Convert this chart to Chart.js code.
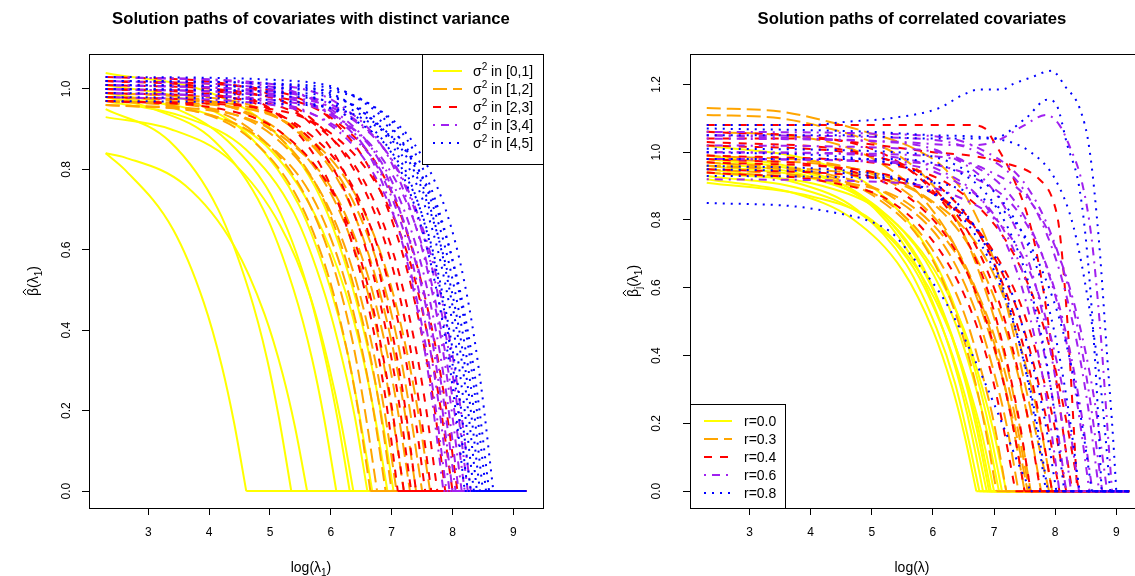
<!DOCTYPE html>
<html>
<head>
<meta charset="utf-8">
<script src="https://cdn.jsdelivr.net/npm/chart.js@4.4.1/dist/chart.umd.min.js"></script>
<style>
html, body { margin: 0; padding: 0; overflow: hidden; background: #fff; width: 1135px; height: 576px; }
canvas { position: absolute; top: 0; }
#left-chart { left: 0; }
#right-chart { left: 567px; }
</style>
</head>
<body>
<canvas id="left-chart" width="567" height="576"></canvas>
<canvas id="right-chart" width="600" height="576"></canvas>
<script>

// ---- left panel: paths grouped by variance bin, [log(lambda1), beta] ----
const leftVar01 = [
    [[2.3,.84],[2.61,.80],[3.41,.65],[3.91,.47],[4.21,.31],[4.41,.17],[4.61,0],[9.21,0]],
    [[2.3,.84],[2.61,.83],[3.61,.76],[4.41,.61],[4.91,.44],[5.21,.29],[5.41,.16],[5.61,0],[9.21,0]],
    [[2.3,.95],[3.35,.87],[4.15,.70],[4.65,.50],[4.95,.33],[5.15,.18],[5.35,0],[9.21,0]],
    [[2.3,.93],[3.37,.90],[4.37,.82],[5.17,.66],[5.67,.48],[5.97,.31],[6.17,.17],[6.37,0],[9.21,0]],
    [[2.3,1.04],[4.03,.99],[5.03,.90],[5.83,.73],[6.33,.52],[6.63,.34],[6.83,.19],[7.03,0],[9.21,0]],
    [[2.3,.98],[3.09,.95],[4.09,.87],[4.89,.70],[5.39,.50],[5.69,.33],[5.89,.18],[6.09,0],[9.21,0]],
    [[2.3,.99],[3.31,.96],[4.31,.87],[5.11,.71],[5.61,.51],[5.91,.33],[6.11,.18],[6.31,0],[9.21,0]],
    [[2.3,.97],[3.6,.93],[4.6,.85],[5.4,.69],[5.9,.49],[6.2,.32],[6.4,.18],[6.6,0],[9.21,0]],
    [[2.3,1.01],[3.68,.97],[4.68,.88],[5.48,.71],[5.98,.51],[6.28,.34],[6.48,.18],[6.68,0],[9.21,0]],
    [[2.3,.98],[3.93,.94],[4.93,.86],[5.73,.69],[6.23,.50],[6.53,.33],[6.73,.18],[6.93,0],[9.21,0]]
]
const leftVar12 = [
    [[2.3,.97],[3.65,.95],[4.65,.88],[5.45,.73],[5.95,.54],[6.25,.36],[6.45,.20],[6.65,0],[9.21,0]],
    [[2.3,.98],[3.76,.96],[4.76,.89],[5.56,.74],[6.06,.55],[6.36,.37],[6.56,.20],[6.76,0],[9.21,0]],
    [[2.3,.96],[3.9,.94],[4.9,.87],[5.7,.73],[6.2,.54],[6.5,.36],[6.7,.20],[6.9,0],[9.21,0]],
    [[2.3,.99],[4.0,.97],[5.0,.90],[5.8,.75],[6.3,.55],[6.6,.37],[6.8,.21],[7.0,0],[9.21,0]],
    [[2.3,.97],[4.08,.95],[5.08,.88],[5.88,.73],[6.38,.54],[6.68,.36],[6.88,.20],[7.08,0],[9.21,0]],
    [[2.3,.98],[4.2,.96],[5.2,.89],[6.0,.74],[6.5,.55],[6.8,.37],[7.0,.20],[7.2,0],[9.21,0]],
    [[2.3,.96],[4.3,.94],[5.3,.87],[6.1,.73],[6.6,.54],[6.9,.36],[7.1,.20],[7.3,0],[9.21,0]],
    [[2.3,.99],[4.4,.97],[5.4,.90],[6.2,.75],[6.7,.55],[7.0,.37],[7.2,.21],[7.4,0],[9.21,0]],
    [[2.3,.98],[4.5,.96],[5.5,.89],[6.3,.74],[6.8,.55],[7.1,.37],[7.3,.20],[7.5,0],[9.21,0]],
    [[2.3,.97],[4.63,.95],[5.63,.88],[6.43,.73],[6.93,.54],[7.23,.36],[7.43,.20],[7.63,0],[9.21,0]]
]
const leftVar23 = [
    [[2.3,1.02],[4.1,1.0],[5.1,.94],[5.9,.79],[6.4,.59],[6.7,.40],[6.9,.23],[7.1,0],[9.21,0]],
    [[2.3,.97],[4.2,.95],[5.2,.89],[6.0,.75],[6.5,.57],[6.8,.38],[7.0,.21],[7.2,0],[9.21,0]],
    [[2.3,1.0],[4.32,.98],[5.32,.92],[6.12,.78],[6.62,.58],[6.92,.39],[7.12,.22],[7.32,0],[9.21,0]],
    [[2.3,1.03],[4.4,1.01],[5.4,.95],[6.2,.80],[6.7,.60],[7.0,.40],[7.2,.23],[7.4,0],[9.21,0]],
    [[2.3,.98],[4.55,.96],[5.55,.90],[6.35,.76],[6.85,.57],[7.15,.39],[7.35,.22],[7.55,0],[9.21,0]],
    [[2.3,1.01],[4.65,.99],[5.65,.93],[6.45,.78],[6.95,.59],[7.25,.40],[7.45,.22],[7.65,0],[9.21,0]],
    [[2.3,.99],[4.75,.97],[5.75,.91],[6.55,.77],[7.05,.58],[7.35,.39],[7.55,.22],[7.75,0],[9.21,0]],
    [[2.3,1.02],[4.88,1.0],[5.88,.94],[6.68,.79],[7.18,.59],[7.48,.40],[7.68,.23],[7.88,0],[9.21,0]],
    [[2.3,.97],[5.0,.95],[6.0,.89],[6.8,.75],[7.3,.57],[7.6,.38],[7.8,.21],[8.0,0],[9.21,0]],
    [[2.3,1.0],[5.08,.98],[6.08,.92],[6.88,.78],[7.38,.58],[7.68,.39],[7.88,.22],[8.08,0],[9.21,0]]
]
const leftVar34 = [
    [[2.3,1.03],[4.85,1.01],[5.85,.96],[6.65,.83],[7.15,.63],[7.45,.43],[7.65,.24],[7.85,0],[9.21,0]],
    [[2.3,.99],[4.9,.97],[5.9,.92],[6.7,.79],[7.2,.61],[7.5,.41],[7.7,.23],[7.9,0],[9.21,0]],
    [[2.3,1.01],[4.95,.99],[5.95,.94],[6.75,.81],[7.25,.62],[7.55,.42],[7.75,.24],[7.95,0],[9.21,0]],
    [[2.3,1.02],[5.0,1.0],[6.0,.95],[6.8,.82],[7.3,.62],[7.6,.43],[7.8,.24],[8.0,0],[9.21,0]],
    [[2.3,.98],[5.05,.96],[6.05,.91],[6.85,.79],[7.35,.60],[7.65,.41],[7.85,.23],[8.05,0],[9.21,0]],
    [[2.3,1.0],[5.1,.98],[6.1,.93],[6.9,.80],[7.4,.61],[7.7,.42],[7.9,.24],[8.1,0],[9.21,0]],
    [[2.3,1.03],[5.15,1.01],[6.15,.96],[6.95,.83],[7.45,.63],[7.75,.43],[7.95,.24],[8.15,0],[9.21,0]],
    [[2.3,.99],[5.2,.97],[6.2,.92],[7.0,.79],[7.5,.61],[7.8,.41],[8.0,.23],[8.2,0],[9.21,0]],
    [[2.3,1.01],[5.25,.99],[6.25,.94],[7.05,.81],[7.55,.62],[7.85,.42],[8.05,.24],[8.25,0],[9.21,0]],
    [[2.3,1.0],[5.3,.98],[6.3,.93],[7.1,.80],[7.6,.61],[7.9,.42],[8.1,.24],[8.3,0],[9.21,0]]
]
const leftVar45 = [
    [[2.3,1.0],[5.2,.99],[6.2,.95],[7.0,.84],[7.5,.65],[7.8,.45],[8.0,.26],[8.2,0],[9.21,0]],
    [[2.3,1.02],[5.25,1.01],[6.25,.97],[7.05,.85],[7.55,.66],[7.85,.46],[8.05,.26],[8.25,0],[9.21,0]],
    [[2.3,.98],[5.3,.97],[6.3,.93],[7.1,.82],[7.6,.64],[7.9,.44],[8.1,.25],[8.3,0],[9.21,0]],
    [[2.3,1.01],[5.35,1.0],[6.35,.96],[7.15,.84],[7.65,.66],[7.95,.46],[8.15,.26],[8.35,0],[9.21,0]],
    [[2.3,1.03],[5.4,1.02],[6.4,.98],[7.2,.86],[7.7,.67],[8.0,.46],[8.2,.27],[8.4,0],[9.21,0]],
    [[2.3,.99],[5.45,.98],[6.45,.94],[7.25,.83],[7.75,.64],[8.05,.45],[8.25,.26],[8.45,0],[9.21,0]],
    [[2.3,1.0],[5.5,.99],[6.5,.95],[7.3,.84],[7.8,.65],[8.1,.45],[8.3,.26],[8.5,0],[9.21,0]],
    [[2.3,1.02],[5.55,1.01],[6.55,.97],[7.35,.85],[7.85,.66],[8.15,.46],[8.35,.26],[8.55,0],[9.21,0]],
    [[2.3,.97],[5.6,.96],[6.6,.92],[7.4,.81],[7.9,.63],[8.2,.44],[8.4,.25],[8.6,0],[9.21,0]],
    [[2.3,1.01],[5.67,1.0],[6.67,.96],[7.47,.84],[7.97,.66],[8.27,.46],[8.47,.26],[8.67,0],[9.21,0]]
]

// ---- right panel: paths grouped by correlation r ----
const rightR00 = [
    [[2.3,.92],[3.71,.88],[4.71,.80],[5.51,.65],[6.01,.47],[6.31,.31],[6.51,.17],[6.71,0],[9.21,0]],
    [[2.3,.95],[3.76,.91],[4.76,.83],[5.56,.67],[6.06,.48],[6.36,.32],[6.56,.17],[6.76,0],[9.21,0]],
    [[2.3,.99],[3.82,.95],[4.82,.87],[5.62,.70],[6.12,.50],[6.42,.33],[6.62,.18],[6.82,0],[9.21,0]],
    [[2.3,.93],[3.88,.89],[4.88,.81],[5.68,.66],[6.18,.47],[6.48,.31],[6.68,.17],[6.88,0],[9.21,0]],
    [[2.3,.97],[3.95,.93],[4.95,.85],[5.75,.69],[6.25,.49],[6.55,.32],[6.75,.18],[6.95,0],[9.21,0]],
    [[2.3,.91],[4.0,.87],[5.0,.80],[5.8,.64],[6.3,.46],[6.6,.30],[6.8,.17],[7.0,0],[9.21,0]],
    [[2.3,.96],[4.08,.92],[5.08,.84],[5.88,.68],[6.38,.49],[6.68,.32],[6.88,.18],[7.08,0],[9.21,0]],
    [[2.3,1.02],[4.13,.97],[5.13,.88],[5.93,.71],[6.43,.51],[6.73,.33],[6.93,.18],[7.13,0],[9.21,0]],
    [[2.3,.94],[4.2,.90],[5.2,.82],[6.0,.66],[6.5,.48],[6.8,.31],[7.0,.17],[7.2,0],[9.21,0]],
    [[2.3,.98],[3.92,.94],[4.92,.86],[5.72,.69],[6.22,.50],[6.52,.33],[6.72,.18],[6.92,0],[9.21,0]]
]
const rightR03 = [
    [[2.3,1.13],[3.5,1.12],[4.3,1.09],[4.9,1.06],[5.7,1.01],[6.2,.95],[6.6,.85],[7.0,.68],[7.3,.48],[7.55,.28],[7.75,.12],[7.9,0],[9.21,0]],
    [[2.3,1.11],[3.5,1.10],[4.3,1.07],[5.0,1.03],[5.6,.97],[6.1,.88],[6.5,.76],[6.9,.57],[7.2,.38],[7.4,.21],[7.6,0],[9.21,0]],
    [[2.3,1.06],[3.5,1.05],[4.5,1.02],[5.3,.95],[5.9,.85],[6.4,.71],[6.8,.53],[7.1,.36],[7.35,.18],[7.55,0],[9.21,0]],
    [[2.3,.97],[4.04,.94],[5.04,.87],[5.84,.73],[6.34,.54],[6.64,.36],[6.84,.20],[7.04,0],[9.21,0]],
    [[2.3,.95],[4.2,.92],[5.2,.86],[6.0,.71],[6.5,.53],[6.8,.35],[7.0,.20],[7.2,0],[9.21,0]],
    [[2.3,.96],[4.4,.93],[5.4,.86],[6.2,.72],[6.7,.53],[7.0,.35],[7.2,.20],[7.4,0],[9.21,0]],
    [[2.3,.94],[4.58,.91],[5.58,.85],[6.38,.70],[6.88,.52],[7.18,.35],[7.38,.19],[7.58,0],[9.21,0]],
    [[2.3,.98],[4.77,.95],[5.77,.88],[6.57,.73],[7.07,.54],[7.37,.36],[7.57,.20],[7.77,0],[9.21,0]],
    [[2.3,.96],[4.95,.93],[5.95,.86],[6.75,.72],[7.25,.53],[7.55,.35],[7.75,.20],[7.95,0],[9.21,0]],
    [[2.3,.99],[4.5,.96],[5.5,.89],[6.3,.74],[6.8,.55],[7.1,.37],[7.3,.20],[7.5,0],[9.21,0]]
]
const rightR04 = [
    [[2.3,1.08],[4.0,1.08],[5.5,1.08],[6.6,1.08],[6.85,1.07],[7.0,1.03],[7.3,.93],[7.6,.78],[7.8,.60],[8.0,.35],[8.15,.15],[8.28,0],[9.21,0]],
    [[2.3,1.04],[4.0,1.04],[5.13,1.02],[6.0,1.0],[6.6,.99],[7.14,.97],[7.74,.92],[7.96,.86],[8.07,.77],[8.2,.50],[8.3,.20],[8.36,0],[9.21,0]],
    [[2.3,1.03],[4.76,1.0],[5.76,.93],[6.56,.77],[7.06,.57],[7.36,.38],[7.56,.21],[7.76,0],[9.21,0]],
    [[2.3,.98],[4.5,.95],[5.5,.88],[6.3,.73],[6.8,.54],[7.1,.36],[7.3,.20],[7.5,0],[9.21,0]],
    [[2.3,.94],[4.35,.91],[5.35,.85],[6.15,.70],[6.65,.52],[6.95,.35],[7.15,.19],[7.35,0],[9.21,0]],
    [[2.3,1.02],[4.95,.99],[5.95,.92],[6.75,.76],[7.25,.56],[7.55,.38],[7.75,.21],[7.95,0],[9.21,0]],
    [[2.3,.97],[5.07,.94],[6.07,.87],[6.87,.73],[7.37,.54],[7.67,.36],[7.87,.20],[8.07,0],[9.21,0]],
    [[2.3,.95],[5.18,.92],[6.18,.86],[6.98,.71],[7.48,.53],[7.78,.35],[7.98,.20],[8.18,0],[9.21,0]],
    [[2.3,1.06],[4.6,1.03],[5.6,.95],[6.4,.79],[6.9,.59],[7.2,.39],[7.4,.22],[7.6,0],[9.21,0]],
    [[2.3,.99],[5.39,.96],[6.39,.89],[7.19,.74],[7.69,.55],[7.99,.37],[8.19,.20],[8.39,0],[9.21,0]]
]
const rightR06 = [
    [[2.3,1.05],[4.0,1.04],[5.5,1.03],[6.5,1.02],[7.0,1.03],[7.5,1.08],[7.85,1.11],[8.07,1.08],[8.23,1.02],[8.44,.91],[8.6,.74],[8.75,.45],[8.85,.20],[8.93,0],[9.21,0]],
    [[2.3,1.06],[5.77,1.05],[6.77,1.01],[7.57,.89],[8.07,.69],[8.37,.48],[8.57,.27],[8.77,0],[9.21,0]],
    [[2.3,1.0],[5.07,.99],[6.07,.95],[6.87,.84],[7.37,.65],[7.67,.45],[7.87,.26],[8.07,0],[9.21,0]],
    [[2.3,.98],[5.18,.97],[6.18,.93],[6.98,.82],[7.48,.64],[7.78,.44],[7.98,.25],[8.18,0],[9.21,0]],
    [[2.3,1.04],[5.26,1.03],[6.26,.99],[7.06,.87],[7.56,.68],[7.86,.47],[8.06,.27],[8.26,0],[9.21,0]],
    [[2.3,.92],[5.39,.91],[6.39,.87],[7.19,.77],[7.69,.60],[7.99,.41],[8.19,.24],[8.39,0],[9.21,0]],
    [[2.3,1.02],[5.56,1.01],[6.56,.97],[7.36,.85],[7.86,.66],[8.16,.46],[8.36,.26],[8.56,0],[9.21,0]],
    [[2.3,.98],[5.61,.97],[6.61,.93],[7.41,.82],[7.91,.64],[8.21,.44],[8.41,.25],[8.61,0],[9.21,0]],
    [[2.3,1.05],[5.72,1.04],[6.72,1.0],[7.52,.88],[8.02,.68],[8.32,.47],[8.52,.27],[8.72,0],[9.21,0]],
    [[2.3,1.0],[5.85,.99],[6.85,.95],[7.65,.84],[8.15,.65],[8.45,.45],[8.65,.26],[8.85,0],[9.21,0]]
]
const rightR08 = [
    [[2.3,1.08],[4.0,1.08],[4.6,1.09],[5.3,1.10],[6.1,1.13],[6.5,1.17],[6.76,1.185],[7.14,1.185],[7.3,1.2],[7.6,1.22],[7.94,1.24],[8.18,1.19],[8.4,1.13],[8.56,1.01],[8.72,.73],[8.85,.40],[8.95,.15],[9.0,0],[9.21,0]],
    [[2.3,1.05],[4.5,1.05],[6.0,1.04],[6.97,1.04],[7.52,1.10],[7.87,1.155],[8.02,1.14],[8.2,1.02],[8.4,.89],[8.55,.65],[8.68,.30],[8.76,0],[9.21,0]],
    [[2.3,.85],[3.74,.84],[4.44,.82],[4.91,.80],[5.34,.76],[5.67,.69],[6.2,.56],[6.6,.42],[6.9,.30],[7.2,.17],[7.4,.08],[7.6,0],[9.21,0]],
    [[2.3,1.0],[4.85,.98],[5.85,.93],[6.65,.79],[7.15,.60],[7.45,.41],[7.65,.23],[7.85,0],[9.21,0]],
    [[2.3,.95],[5.02,.93],[6.02,.88],[6.82,.75],[7.32,.57],[7.62,.38],[7.82,.22],[8.02,0],[9.21,0]],
    [[2.3,.98],[5.15,.98],[6.15,.96],[6.95,.86],[7.45,.68],[7.75,.48],[7.95,.28],[8.15,0],[9.21,0]],
    [[2.3,1.01],[5.4,1.0],[6.4,.96],[7.2,.84],[7.7,.66],[8.0,.46],[8.2,.26],[8.4,0],[9.21,0]],
    [[2.3,.93],[5.6,.92],[6.6,.88],[7.4,.78],[7.9,.60],[8.2,.42],[8.4,.24],[8.6,0],[9.21,0]],
    [[2.3,1.07],[5.0,1.06],[6.0,1.05],[7.0,1.04],[7.6,1.0],[8.0,.92],[8.3,.78],[8.55,.55],[8.75,.30],[8.9,0],[9.21,0]],
    [[2.3,.96],[4.88,.94],[5.88,.89],[6.68,.76],[7.18,.57],[7.48,.39],[7.68,.22],[7.88,0],[9.21,0]]
]

const xTicksMin = 2.026
const xTicksMax = 9.486
const leftYRange = [-0.042, 1.087]
const rightYRange = [-0.0496, 1.2896]

const leftLegendLabels = ['[0,1]', '[1,2]', '[2,3]', '[3,4]', '[4,5]']
const rightLegendLabels = ['r=0.0', 'r=0.3', 'r=0.4', 'r=0.6', 'r=0.8']

const FONT = '"Liberation Sans", Arial, Helvetica, sans-serif'
const groupColors = ['#FFFF00', '#FFA500', '#FF0000', '#A020F0', '#0000FF']
const groupDashes = [[], [14, 6], [8, 8], [2, 6, 8, 6], [2, 6]]


function buildDatasets(groups){
    const sets = []
    groups.forEach(function (lines, g) {
        lines.forEach(function (line) {
            // curved part up to where the path hits zero, then the flat zero tail
            let cut = line.findIndex(p => p[1] === 0)
            if (cut < 0) cut = line.length - 1
            const parts = [line.slice(0, cut + 1), line.slice(cut)]
            parts.forEach(function (part, k) {
                sets.push({
                    data: part.map(p => ({ x: p[0], y: p[1] })),
                    borderColor: groupColors[g],
                    borderDash: groupDashes[g],
                    borderWidth: 2,
                    pointRadius: 0,
                    cubicInterpolationMode: k === 0 ? 'monotone' : 'default',
                    tension: k === 0 ? 0.4 : 0,
                    fill: false,
                    order: 5 - g
                })
            })
        })
    })
    return sets
}

// text with sub/superscripts and a hat, drawn centered (or left aligned) at x,y
function drawRich(ctx, segs, x, y, rot, align, size){
    const big = size + 'px ' + FONT
    const small = Math.round(size * 0.72) + 'px ' + FONT
    const widths = []
    let total = 0
    segs.forEach(function (s) {
        ctx.font = (s[1] === 'sub' || s[1] === 'sup') ? small : big
        const w = ctx.measureText(s[0]).width
        widths.push(w)
        total += w
    })
    ctx.save()
    ctx.translate(x, y)
    if (rot) ctx.rotate(rot)
    ctx.textAlign = 'left'
    ctx.textBaseline = 'alphabetic'
    ctx.fillStyle = '#000'
    const base = size * 0.36
    let cx = align === 'left' ? 0 : -total / 2
    segs.forEach(function (s, i) {
        const kind = s[1]
        ctx.font = (kind === 'sub' || kind === 'sup') ? small : big
        const dy = kind === 'sub' ? size * 0.3 : (kind === 'sup' ? -size * 0.42 : 0)
        ctx.fillText(s[0], cx, base + dy)
        if (kind === 'hat') {
            ctx.beginPath()
            ctx.strokeStyle = '#000'
            ctx.lineWidth = 1
            ctx.moveTo(cx + 1, base - size * 0.85)
            ctx.lineTo(cx + widths[i] / 2, base - size * 1.08)
            ctx.lineTo(cx + widths[i] - 1, base - size * 0.85)
            ctx.stroke()
        }
        cx += widths[i]
    })
    ctx.restore()
}

const rDecor = {
    id: 'rDecor',
    afterDraw(chart, args, o) {
        const ctx = chart.ctx
        const a = chart.chartArea
        ctx.save()

        // plot box
        ctx.strokeStyle = '#000'
        ctx.lineWidth = 1
        ctx.setLineDash([])
        ctx.strokeRect(Math.round(a.left) + 0.5, Math.round(a.top) + 0.5, Math.round(a.right - a.left), Math.round(a.bottom - a.top))

        // y tick labels, rotated like R
        const ys = chart.scales.y
        ctx.font = '12px ' + FONT
        ctx.fillStyle = '#000'
        ctx.textAlign = 'center'
        ctx.textBaseline = 'middle'
        ys.ticks.forEach(function (t) {
            const py = ys.getPixelForValue(t.value)
            ctx.save()
            ctx.translate(o.yTickX, py)
            ctx.rotate(-Math.PI / 2)
            ctx.fillText(t.value.toFixed(1), 0, 0)
            ctx.restore()
        })

        // main title
        ctx.font = 'bold 16.7px ' + FONT
        ctx.fillText(o.title, o.titleX, o.titleY)

        drawRich(ctx, o.xTitle, o.titleX, o.xTitleY, 0, 'center', 14)
        drawRich(ctx, o.yTitle, o.yTitleX, (a.top + a.bottom) / 2, -Math.PI / 2, 'center', 14)

        // legend
        const lg = o.legend
        const bx = lg.corner === 'topright' ? a.right - lg.w : a.left
        const by = lg.corner === 'topright' ? a.top : a.bottom - lg.h
        ctx.fillStyle = '#fff'
        ctx.fillRect(bx, by, lg.w, lg.h)
        ctx.strokeStyle = '#000'
        ctx.lineWidth = 1
        ctx.strokeRect(Math.round(bx) + 0.5, Math.round(by) + 0.5, lg.w, lg.h)
        lg.items.forEach(function (segs, i) {
            const iy = by + lg.first + i * lg.step
            ctx.beginPath()
            ctx.strokeStyle = groupColors[i]
            ctx.setLineDash(groupDashes[i])
            ctx.lineWidth = 2
            ctx.moveTo(bx + lg.s0, iy)
            ctx.lineTo(bx + lg.s1, iy)
            ctx.stroke()
            ctx.setLineDash([])
            drawRich(ctx, segs, bx + lg.tx, iy, 0, 'left', 14)
        })

        ctx.restore()
    }
}

function axisOptions(yRange, yWidth){
    const grid = { drawOnChartArea: false, drawTicks: true, tickLength: 7, color: '#000', lineWidth: 1 }
    return {
        x: {
            type: 'linear',
            min: xTicksMin,
            max: xTicksMax,
            afterFit: function (s) { s.height = 68 },
            ticks: {
                stepSize: 1,
                includeBounds: false,
                padding: 10,
                color: '#000',
                maxRotation: 0,
                autoSkip: false,
                font: { family: FONT, size: 12 },
                callback: v => String(v)
            },
            grid: grid,
            border: { display: true, color: '#000', width: 1 }
        },
        y: {
            type: 'linear',
            min: yRange[0],
            max: yRange[1],
            afterFit: function (s) { s.width = yWidth },
            ticks: { stepSize: 0.2, includeBounds: false, display: false },
            grid: grid,
            border: { display: true, color: '#000', width: 1 }
        }
    }
}

function setupPathChart(canvas, groups, yRange, yWidth, padRight, decor){
    new Chart(canvas, {
        type: 'line',
        data: { datasets: buildDatasets(groups) },
        options: {
            responsive: false,
            animation: false,
            devicePixelRatio: 1,
            events: [],
            layout: { padding: { left: 0, top: 54, right: padRight, bottom: 0 } },
            scales: axisOptions(yRange, yWidth),
            plugins: {
                legend: { display: false },
                tooltip: { enabled: false },
                rDecor: decor
            }
        },
        plugins: [rDecor]
    })
}

document.addEventListener("DOMContentLoaded", function () {

    setupPathChart(document.getElementById("left-chart"),
        [leftVar01, leftVar12, leftVar23, leftVar34, leftVar45],
        leftYRange, 89, 24, {
            title: 'Solution paths of covariates with distinct variance',
            titleX: 311, titleY: 19, xTitleY: 567,
            xTitle: [['log(λ', ''], ['1', 'sub'], [')', '']],
            yTitle: [['β', 'hat'], ['(λ', ''], ['1', 'sub'], [')', '']],
            yTitleX: 33, yTickX: 67,
            legend: {
                corner: 'topright', w: 121, h: 110, first: 17, step: 18, s0: 11, s1: 40, tx: 51,
                items: leftLegendLabels.map(t => [['σ', ''], ['2', 'sup'], [' in ' + t, '']])
            }
        })

    setupPathChart(document.getElementById("right-chart"),
        [rightR00, rightR03, rightR04, rightR06, rightR08],
        rightYRange, 123, 21, {
            title: 'Solution paths of correlated covariates',
            titleX: 345, titleY: 19, xTitleY: 567,
            xTitle: [['log(λ)', '']],
            yTitle: [['β', 'hat'], ['j', 'sub'], ['(λ', ''], ['1', 'sub'], [')', '']],
            yTitleX: 66, yTickX: 90,
            legend: {
                corner: 'bottomleft', w: 95, h: 104, first: 17, step: 18, s0: 14, s1: 42, tx: 54,
                items: rightLegendLabels.map(t => [[t, '']])
            }
        })

});
</script>
</body>
</html>
